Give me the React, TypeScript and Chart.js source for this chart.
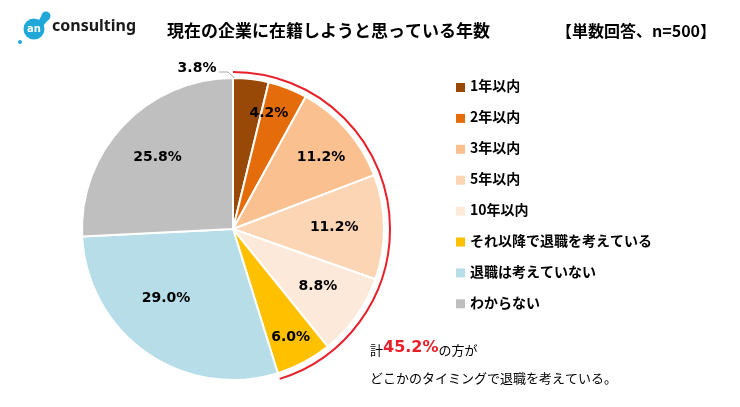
import React, { useEffect, useRef } from "react";
import { Chart, registerables } from "chart.js";

Chart.register(...registerables);

const categories = [
  "1年以内",
  "2年以内",
  "3年以内",
  "5年以内",
  "10年以内",
  "それ以降で退職を考えている",
  "退職は考えていない",
  "わからない",
];
const values = [3.8, 4.2, 11.2, 11.2, 8.8, 6.0, 29.0, 25.8];
const colors = ["#984807", "#E46C0A", "#FAC090", "#FCD5B5", "#FDE9D9", "#FFC000", "#B7DEE8", "#BFBFBF"];
const highlightCount = 6; // first six categories = will leave at some point
const titleText = "現在の企業に在籍しようと思っている年数";
const subtitleText = "【単数回答、n=500】";
const notePrefix = "計";
const noteSuffix = "の方が";
const noteLine2 = "どこかのタイミングで退職を考えている。";
const logoText = "consulting";
const logoMark = "an";

// label placement: [radius fraction, angle shift in degrees]; null = outside label
const labelPlacement: (number[] | null)[] = [null, [0.8, -4], [0.75, 2], [0.67, 0], [0.68, -1], [0.81, 0], [0.64, 9], [0.69, 0]];

const JP = '"Noto Sans CJK JP", "Noto Sans", sans-serif';
const NUM = '"DejaVu Sans", sans-serif';

const decorPlugin = {
  id: "decor",
  afterDatasetsDraw(chart: any) {
    const ctx = chart.ctx as CanvasRenderingContext2D;
    const arcs = chart.getDatasetMeta(0).data as any[];
    if (!arcs.length) return;
    const cx = arcs[0].x;
    const cy = arcs[0].y;
    const R = arcs[0].outerRadius;
    ctx.save();

    // percentage labels
    ctx.font = `bold 14px ${NUM}`;
    ctx.fillStyle = "#000";
    ctx.textAlign = "center";
    ctx.textBaseline = "middle";
    arcs.forEach((a, i) => {
      const txt = values[i].toFixed(1) + "%";
      const p = labelPlacement[i];
      if (p) {
        const mid = (a.startAngle + a.endAngle) / 2 + (p[1] * Math.PI) / 180;
        const r = R * p[0];
        ctx.fillText(txt, cx + Math.cos(mid) * r, cy + Math.sin(mid) * r);
      } else {
        // outside label with leader line
        const tx = cx - 36;
        const ty = cy - R - 10;
        ctx.fillText(txt, tx, ty);
        const ang = a.startAngle + 0.01;
        ctx.strokeStyle = "#A6A6A6";
        ctx.lineWidth = 1;
        ctx.beginPath();
        ctx.moveTo(tx + 22, ty + 4);
        ctx.lineTo(cx - 5, ty + 4);
        ctx.lineTo(cx + Math.cos(ang) * R, cy + Math.sin(ang) * R);
        ctx.stroke();
      }
    });

    // red highlight arc
    ctx.strokeStyle = "#E8202A";
    ctx.lineWidth = 2;
    ctx.beginPath();
    ctx.arc(cx, cy, R + 6, arcs[0].startAngle, arcs[highlightCount - 1].endAngle);
    ctx.stroke();

    // title
    ctx.textAlign = "left";
    ctx.fillStyle = "#000";
    ctx.font = `bold 17px ${JP}`;
    ctx.fillText(titleText, 167, 31);
    ctx.font = `bold 16px ${JP}`;
    ctx.fillText(subtitleText, 556, 31);

    // legend
    ctx.font = `bold 14px ${JP}`;
    categories.forEach((c, i) => {
      const y = 86 + i * 30.9;
      ctx.fillStyle = colors[i];
      ctx.fillRect(456, y - 3, 9, 9);
      ctx.fillStyle = "#000";
      ctx.fillText(c, 470, y);
    });

    // note
    const total = values.slice(0, highlightCount).reduce((s, v) => s + v, 0).toFixed(1) + "%";
    let x = 370;
    ctx.font = `13px ${JP}`;
    ctx.fillStyle = "#000";
    ctx.fillText(notePrefix, x, 350);
    x += ctx.measureText(notePrefix).width;
    ctx.font = `bold 16px ${NUM}`;
    ctx.fillStyle = "#E8202A";
    ctx.fillText(total, x, 348);
    x += ctx.measureText(total).width;
    ctx.font = `13px ${JP}`;
    ctx.fillStyle = "#000";
    ctx.fillText(noteSuffix, x, 350);
    ctx.fillText(noteLine2, 370, 378);

    // logo
    const blue = "#1FA8D8";
    ctx.fillStyle = blue;
    ctx.beginPath();
    ctx.arc(34, 29, 10.5, 0, Math.PI * 2);
    ctx.fill();
    ctx.beginPath();
    ctx.arc(46, 16, 4.5, 0, Math.PI * 2);
    ctx.fill();
    ctx.beginPath();
    ctx.moveTo(39, 20);
    ctx.lineTo(43, 13);
    ctx.lineTo(49, 19);
    ctx.lineTo(43, 26);
    ctx.closePath();
    ctx.fill();
    ctx.beginPath();
    ctx.arc(20, 42, 2, 0, Math.PI * 2);
    ctx.fill();
    ctx.fillStyle = "#fff";
    ctx.font = `bold 10px ${NUM}`;
    ctx.textAlign = "center";
    ctx.fillText(logoMark, 34, 29);
    ctx.textAlign = "left";
    ctx.fillStyle = "#1a1a1a";
    ctx.font = `bold 16px "Noto Sans", sans-serif`;
    ctx.fillText(logoText, 52, 26);

    ctx.restore();
  },
};

export default function App() {
  const ref = useRef<HTMLCanvasElement | null>(null);
  useEffect(() => {
    if (!ref.current) return;
    const chart = new Chart(ref.current, {
      type: "pie",
      data: {
        labels: categories,
        datasets: [
          {
            data: values,
            backgroundColor: colors,
            borderColor: "#FFFFFF",
            borderWidth: 2,
          },
        ],
      },
      options: {
        responsive: false,
        animation: false,
        radius: 151,
        layout: { padding: { left: 82, right: 356, top: 78, bottom: 27 } },
        plugins: {
          legend: { display: false },
          tooltip: { enabled: false },
          title: { display: false },
        },
      } as any,
      plugins: [decorPlugin],
    });
    return () => chart.destroy();
  }, []);
  return (
    <div style={{ position: "fixed", left: 0, top: 0, width: 740, height: 407, background: "#fff" }}>
      <canvas ref={ref} width={740} height={407} style={{ width: 740, height: 407, display: "block" }} />
    </div>
  );
}
